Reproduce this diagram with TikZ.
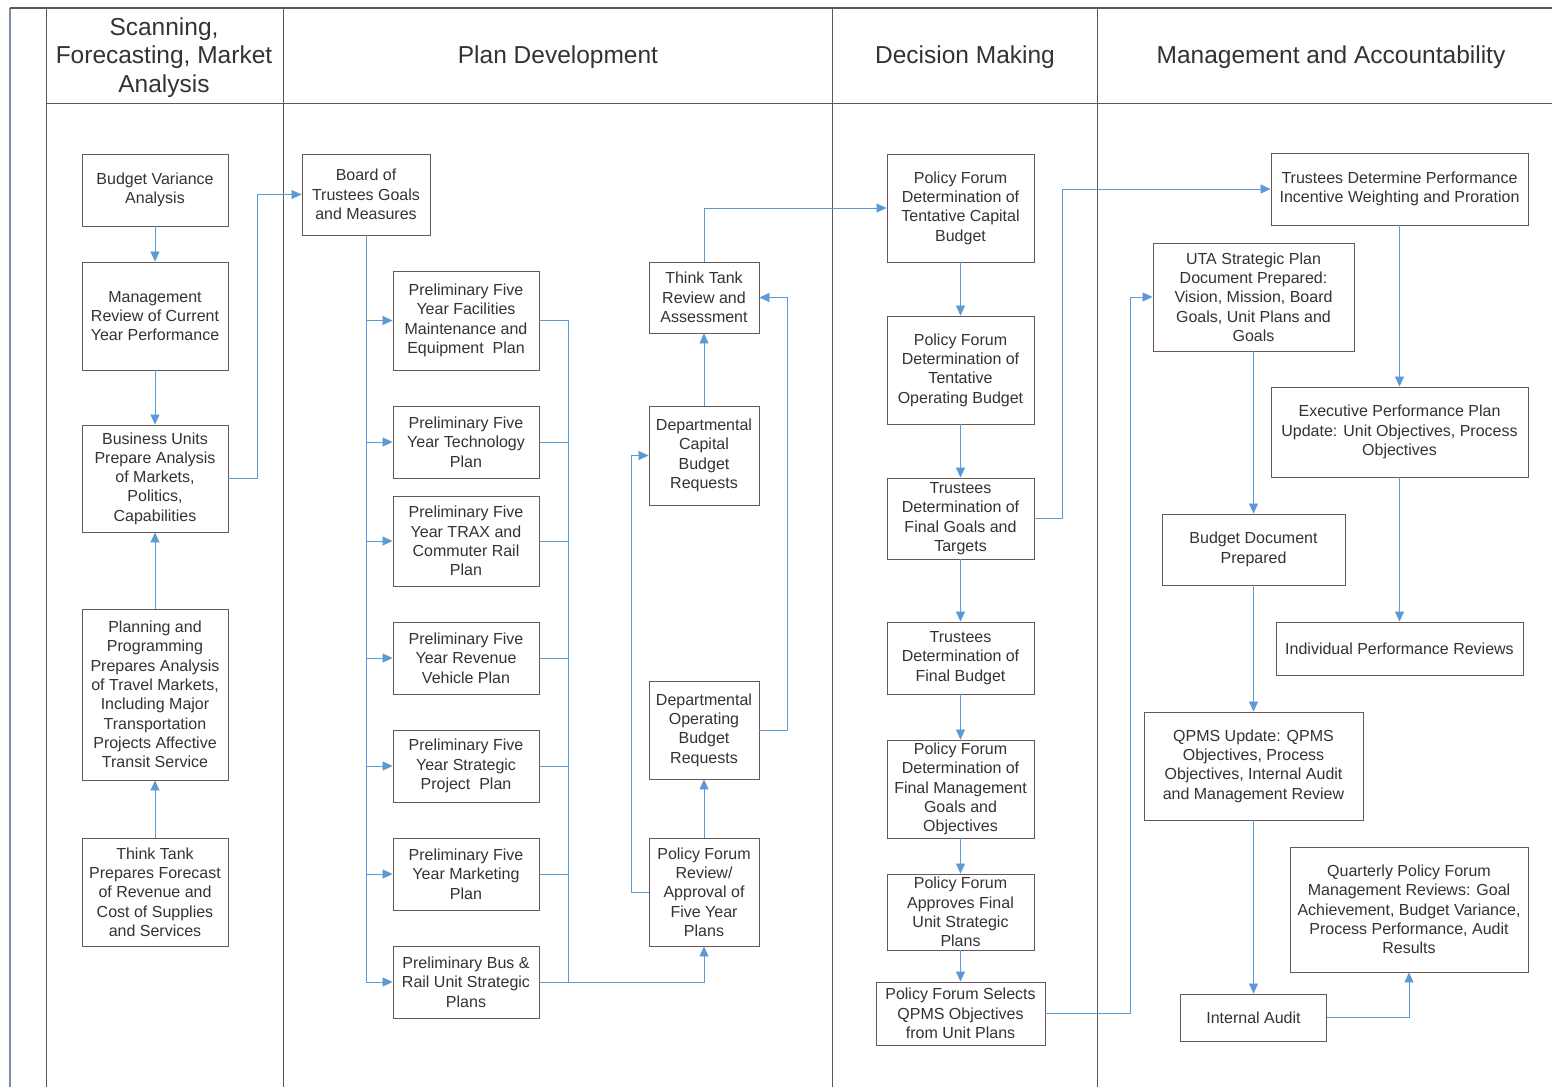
\documentclass[tikz,border=0pt]{standalone}
\usepackage{fontspec}
\setmainfont{Liberation Sans}
\usetikzlibrary{arrows.meta}
\definecolor{ink}{HTML}{333333}
\definecolor{boxline}{HTML}{6A5656}
\definecolor{laneline}{HTML}{5A5A5A}
\definecolor{flow}{HTML}{5B9BD5}
\definecolor{edge}{HTML}{7A8CAA}
\tikzset{
  box/.style={draw=boxline, line width=0.9pt, text=ink, align=center, inner sep=0pt,
    font=\fontsize{16}{19.3}\selectfont},
  head/.style={text=ink, align=center, inner sep=0pt, font=\fontsize{24.5}{28.5}\selectfont},
  conn/.style={draw=flow, line width=0.8pt},
  arr/.style={conn, -{Triangle[length=10pt, width=9pt]}},
  lane/.style={draw=laneline, line width=1pt},
}
\begin{document}
\begin{tikzpicture}[x=1pt, y=-1pt]
\useasboundingbox (0,0) rectangle (1552,1087);
\fill[white] (0,0) rectangle (1552,1087);

% swimlane frame
\draw[draw=edge, line width=1.2pt] (10,8) -- (10,1087);
\draw[lane, line width=1.6pt] (10,8) -- (1552,8);
\draw[lane] (46,8) -- (46,1087);
\draw[lane] (283,8) -- (283,1087);
\draw[lane] (832,8) -- (832,1087);
\draw[lane] (1097,8) -- (1097,1087);
\draw[lane] (46,103) -- (1552,103);

% lane headings
\node[head] (h1) at (164,57.5) {Scanning,\\Forecasting, Market\\Analysis};
\node[head] (h2) at (558,57.5) {Plan Development};
\node[head] (h3) at (965,57.5) {Decision Making};
\node[head] (h4) at (1331,57.5) {Management and Accountability};

% scanning lane
\node[box, minimum width=146, minimum height=72] (bva) at (155,190) {Budget Variance\\Analysis};
\node[box, minimum width=146, minimum height=108] (mrc) at (155,316) {Management\\Review of Current\\Year Performance};
\node[box, minimum width=146, minimum height=107] (bupa) at (155,478.5) {Business Units\\Prepare Analysis\\of Markets,\\Politics,\\Capabilities};
\node[box, minimum width=146, minimum height=171] (pp) at (155,694.5) {Planning and\\Programming\\Prepares Analysis\\of Travel Markets,\\Including Major\\Transportation\\Projects Affective\\Transit Service};
\node[box, minimum width=146, minimum height=108] (tt) at (155,892) {Think Tank\\Prepares Forecast\\of Revenue and\\Cost of Supplies\\and Services};

% plan development lane
\node[box, minimum width=128, minimum height=81] (board) at (366,194.5) {Board of\\Trustees Goals\\and Measures};
\node[box, minimum width=146, minimum height=99] (p1) at (466,320.5) {Preliminary Five\\Year Facilities\\Maintenance and\\Equipment\ \ Plan};
\node[box, minimum width=146, minimum height=72] (p2) at (466,442) {Preliminary Five\\Year Technology\\Plan};
\node[box, minimum width=146, minimum height=90] (p3) at (466,541) {Preliminary Five\\Year TRAX and\\Commuter Rail\\Plan};
\node[box, minimum width=146, minimum height=72] (p4) at (466,658) {Preliminary Five\\Year Revenue\\Vehicle Plan};
\node[box, minimum width=146, minimum height=72] (p5) at (466,766) {Preliminary Five\\Year Strategic\\Project\ \ Plan};
\node[box, minimum width=146, minimum height=72] (p6) at (466,874) {Preliminary Five\\Year Marketing\\Plan};
\node[box, minimum width=146, minimum height=72] (p7) at (466,982) {Preliminary Bus \&\\Rail Unit Strategic\\Plans};
\node[box, minimum width=110, minimum height=71] (ttr) at (704,297.5) {Think Tank\\Review and\\Assessment};
\node[box, minimum width=110, minimum height=99] (dcbr) at (704,455.5) {Departmental\\Capital\\Budget\\Requests};
\node[box, minimum width=110, minimum height=98] (dobr) at (704,730) {Departmental\\Operating\\Budget\\Requests};
\node[box, minimum width=110, minimum height=108] (pfr) at (704,892) {Policy Forum\\Review/\\Approval of\\Five Year\\Plans};

% decision making lane
\node[box, minimum width=147, minimum height=108] (d1) at (960.5,208) {Policy Forum\\Determination of\\Tentative Capital\\Budget};
\node[box, minimum width=147, minimum height=108] (d2) at (960.5,370) {Policy Forum\\Determination of\\Tentative\\Operating Budget};
\node[box, minimum width=147, minimum height=81] (d3) at (960.5,518.5) {Trustees\\Determination of\\Final Goals and\\Targets};
\node[box, minimum width=147, minimum height=72] (d4) at (960.5,658) {Trustees\\Determination of\\Final Budget};
\node[box, minimum width=147, minimum height=98] (d5) at (960.5,789) {Policy Forum\\Determination of\\Final Management\\Goals and\\Objectives};
\node[box, minimum width=147, minimum height=76] (d6) at (960.5,912) {Policy Forum\\Approves Final\\Unit Strategic\\Plans};
\node[box, minimum width=169, minimum height=63] (d7) at (960.5,1013.5) {Policy Forum Selects\\QPMS Objectives\\from Unit Plans};

% management and accountability lane
\node[box, minimum width=257, minimum height=72] (tdp) at (1399.5,189) {Trustees Determine Performance\\Incentive Weighting and Proration};
\node[box, minimum width=201, minimum height=108] (uta) at (1253.5,297) {UTA Strategic Plan\\Document Prepared:\\Vision, Mission, Board\\Goals, Unit Plans and\\Goals};
\node[box, minimum width=257, minimum height=90] (epp) at (1399.5,432) {Executive Performance Plan\\Update: Unit Objectives, Process\\Objectives};
\node[box, minimum width=183, minimum height=71] (bdp) at (1253.5,549.5) {Budget Document\\Prepared};
\node[box, minimum width=247, minimum height=53] (ipr) at (1399.5,648.5) {Individual Performance Reviews};
\node[box, minimum width=219, minimum height=108] (qpms) at (1253.5,766) {QPMS Update: QPMS\\Objectives, Process\\Objectives, Internal Audit\\and Management Review};
\node[box, minimum width=238, minimum height=125] (qpf) at (1409,909.5) {Quarterly Policy Forum\\Management Reviews: Goal\\Achievement, Budget Variance,\\Process Performance, Audit\\Results};
\node[box, minimum width=146, minimum height=47] (ia) at (1253.5,1017.5) {Internal Audit};

% scanning flows
\draw[arr] (bva) -- (mrc);
\draw[arr] (mrc) -- (bupa);
\draw[arr] (pp) -- (bupa);
\draw[arr] (tt) -- (pp);
\draw[arr] (bupa.east) -- ++(29,0) |- (board.west);

% board goals fan out to the five year plans
\foreach \p in {p1,p2,p3,p4,p5,p6,p7}
  \draw[arr] (board.south) |- (\p.west);
\coordinate (rj) at (568,982);
\foreach \p in {p1,p2,p3,p4,p5,p6}
  \draw[conn] (\p.east) -| (rj);
\draw[arr] (p7.east) -| (pfr.south);

% review and budget request loop
\draw[arr] (pfr) -- (dobr);
\draw[arr] (dcbr) -- (ttr);
\draw[arr] (pfr.west) -- ++(-17,0) |- (dcbr.west);
\draw[arr] (dobr.east) -- ++(28,0) |- (ttr.east);
\draw[arr] (ttr.north) |- (d1.west);

% decision chain
\draw[arr] (d1) -- (d2);
\draw[arr] (d2) -- (d3);
\draw[arr] (d3) -- (d4);
\draw[arr] (d4) -- (d5);
\draw[arr] (d5) -- (d6);
\draw[arr] (d6) -- (d7);
\draw[arr] (d3.east) -- ++(28,0) |- (tdp.west);
\draw[arr] (d7.east) -- ++(85,0) |- (uta.west);

% accountability flows
\draw[arr] (tdp) -- (epp);
\draw[arr] (epp) -- (ipr);
\draw[arr] (uta) -- (bdp);
\draw[arr] (bdp) -- (qpms);
\draw[arr] (qpms) -- (ia);
\draw[arr] (ia.east) -| (qpf.south);
\end{tikzpicture}
\end{document}
